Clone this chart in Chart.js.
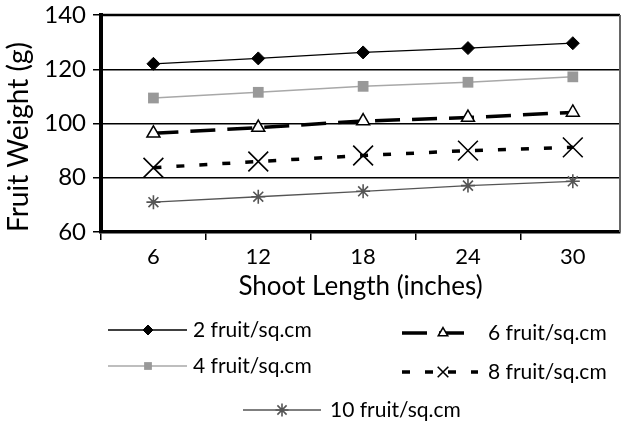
<!DOCTYPE html>
<html>
<head>
<meta charset="utf-8">
<script src="https://cdn.jsdelivr.net/npm/chart.js@4/dist/chart.umd.min.js"></script>
<style>
  html, body { margin: 0; padding: 0; background: #fff; overflow: hidden; }
  #wrap { width: 622px; height: 423px; }
</style>
</head>
<body>
<div id="wrap"><canvas id="c" width="622" height="423"></canvas></div>
<script>
// ---- data ----
const categories = [6, 12, 18, 24, 30];
const seriesNames = ['2 fruit/sq.cm', '4 fruit/sq.cm', '6 fruit/sq.cm', '8 fruit/sq.cm', '10 fruit/sq.cm'];
const fruit2 = [122.0, 124.0, 126.2, 127.8, 129.6];
const fruit4 = [109.4, 111.5, 113.7, 115.2, 117.2];
const fruit6 = [96.4, 98.5, 100.9, 102.2, 104.1];
const fruit8 = [83.7, 86.0, 88.2, 90.0, 91.2];
const fruit10 = [71.0, 73.0, 75.0, 77.1, 78.7];
const yTicks = [60, 80, 100, 120, 140];
const xTitle = 'Shoot Length (inches)';
const yTitle = 'Fruit Weight (g)';

const FONT = 'Lato, "Open Sans", "DejaVu Sans", sans-serif';
const toXY = vals => categories.map((c, i) => ({ x: c, y: vals[i] }));

const datasets = [
  { label: seriesNames[0], data: toXY(fruit2), borderColor: '#000', backgroundColor: '#000', borderWidth: 1.3,
    pointStyle: 'rectRot', pointRadius: 6.5, pointBackgroundColor: '#000', pointBorderColor: '#000', pointBorderWidth: 1 },
  { label: seriesNames[1], data: toXY(fruit4), borderColor: '#a8a8a8', backgroundColor: '#999', borderWidth: 1.5,
    pointStyle: 'rect', pointRadius: 7.6, pointBackgroundColor: '#999', pointBorderColor: '#999', pointBorderWidth: 0 },
  { label: seriesNames[2], data: toXY(fruit6), borderColor: '#000', backgroundColor: '#fff', borderWidth: 3.5, borderDash: [25, 12],
    pointStyle: 'triangle', pointRadius: 7.5, pointBackgroundColor: '#fff', pointBorderColor: '#000', pointBorderWidth: 1.5 },
  { label: seriesNames[3], data: toXY(fruit8), borderColor: '#000', backgroundColor: '#000', borderWidth: 3.5, borderDash: [8, 15],
    pointStyle: 'crossRot', pointRadius: 14, pointBackgroundColor: '#000', pointBorderColor: '#000', pointBorderWidth: 1.6 },
  { label: seriesNames[4], data: toXY(fruit10), borderColor: '#555', backgroundColor: '#555', borderWidth: 1.3,
    pointStyle: 'star', pointRadius: 7, pointBackgroundColor: '#555', pointBorderColor: '#555', pointBorderWidth: 1.6 }
];
datasets.forEach(d => { d.fill = false; d.tension = 0; d.pointHoverRadius = d.pointRadius; });

// legend layout (positions / sizes only)
const legendPos = [
  { x1: 108, x2: 187, mx: 148, y: 330, tx: 193, r: 5 },
  { x1: 108, x2: 187, mx: 148, y: 366, tx: 193, r: 5.5 },
  { x1: 402, x2: 470, mx: 443, y: 333, tx: 488, r: 5.5 },
  { x1: 402, x2: 478, mx: 443, y: 372, tx: 488, r: 7.5 },
  { x1: 243, x2: 321, mx: 282, y: 410, tx: 330, r: 6.5 }
];

const framePlugin = {
  id: 'frame',
  beforeDatasetsDraw(chart) {
    const { ctx, chartArea: a } = chart;
    ctx.save();
    ctx.strokeStyle = '#000';
    ctx.lineWidth = 2.5;
    ctx.beginPath(); ctx.moveTo(a.left, a.top); ctx.lineTo(a.right, a.top); ctx.stroke();
    ctx.strokeStyle = '#666';
    ctx.lineWidth = 2;
    ctx.beginPath(); ctx.moveTo(a.right, a.top); ctx.lineTo(a.right, a.bottom); ctx.stroke();
    ctx.restore();
  },
  afterDraw(chart) {
    const ctx = chart.ctx;
    chart.data.datasets.forEach((ds, i) => {
      const p = legendPos[i];
      ctx.save();
      ctx.strokeStyle = ds.borderColor;
      ctx.lineWidth = ds.borderWidth;
      ctx.setLineDash(ds.borderDash || []);
      ctx.beginPath(); ctx.moveTo(p.x1, p.y); ctx.lineTo(p.x2, p.y); ctx.stroke();
      ctx.restore();
      ctx.save();
      ctx.setLineDash([]);
      ctx.fillStyle = ds.pointBackgroundColor;
      ctx.strokeStyle = ds.pointBorderColor;
      ctx.lineWidth = ds.pointBorderWidth;
      const opts = { pointStyle: ds.pointStyle, radius: p.r, rotation: 0, borderWidth: ds.pointBorderWidth };
      Chart.helpers.drawPoint(ctx, opts, p.mx, p.y);
      ctx.restore();
      ctx.save();
      ctx.fillStyle = '#000';
      ctx.font = '21px ' + FONT;
      ctx.textBaseline = 'middle';
      ctx.textAlign = 'left';
      ctx.fillText(ds.label, p.tx, p.y);
      ctx.restore();
    });
  }
};

new Chart(document.getElementById('c'), {
  type: 'line',
  data: { datasets },
  plugins: [framePlugin],
  options: {
    responsive: false,
    animation: false,
    devicePixelRatio: 1,
    layout: { autoPadding: false, padding: { left: 0, right: 2, top: 15, bottom: 111 } },
    plugins: { legend: { display: false }, tooltip: { enabled: false } },
    scales: {
      x: {
        type: 'linear',
        min: 3, max: 32.7,
        afterFit(s) { s.height = 80; s.paddingLeft = 0; s.paddingRight = 0; },
        afterBuildTicks(s) {
          const t = [];
          for (let v = 3; v <= 30; v += 3) t.push({ value: v });
          s.ticks = t;
        },
        border: { display: true, color: '#000', width: 3.5 },
        grid: {
          drawOnChartArea: false, drawTicks: true, tickLength: 8, lineWidth: 1.5,
          tickColor: c => (categories.includes(c.tick.value) ? 'rgba(0,0,0,0)' : '#000')
        },
        ticks: {
          autoSkip: false, maxRotation: 0, padding: 4, color: '#000',
          font: { family: FONT, size: 22 },
          callback: v => (categories.includes(v) ? String(v) : '')
        },
        title: { display: true, text: xTitle, color: '#000', font: { family: FONT, size: 26 }, padding: { top: 0, bottom: 10 } }
      },
      y: {
        min: yTicks[0], max: yTicks[yTicks.length - 1],
        afterFit(s) { s.width = 101; s.paddingTop = 0; s.paddingBottom = 0; },
        afterBuildTicks(s) { s.ticks = yTicks.map(v => ({ value: v })); },
        border: { display: true, color: '#000', width: 4 },
        grid: { color: '#000', lineWidth: 1.5, drawTicks: true, tickLength: 8, tickColor: '#000' },
        ticks: { padding: 7, color: '#000', font: { family: FONT, size: 24 } },
        title: { display: true, text: yTitle, align: 'start', color: '#000', font: { family: FONT, size: 28 }, padding: { top: 2, bottom: 0 } }
      }
    }
  }
});
</script>
</body>
</html>
